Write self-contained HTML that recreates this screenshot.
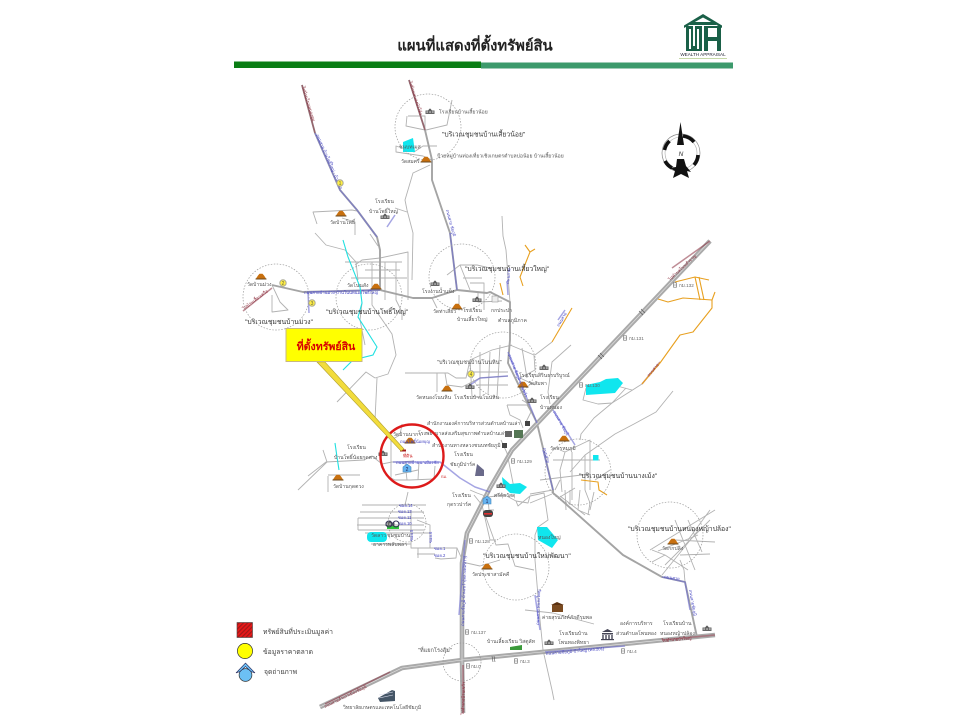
<!DOCTYPE html>
<html lang="th">
<head>
<meta charset="utf-8">
<title>แผนที่แสดงที่ตั้งทรัพย์สิน</title>
<style>
html,body{margin:0;padding:0;background:#fff;width:960px;height:720px;overflow:hidden}
svg{display:block;filter:blur(.3px)}
text{font-family:"Liberation Sans","Noto Sans CJK SC","WenQuanYi Zen Hei",sans-serif}
.r{fill:none;stroke:#b2b2b2;stroke-width:.9;stroke-linejoin:round}
.m{fill:none;stroke:#a4a4a4;stroke-width:1.9;stroke-linejoin:round}
.h{fill:none;stroke:#aaa;stroke-width:4.6;stroke-linejoin:round}
.hc{fill:none;stroke:#e8e8e8;stroke-width:.6;stroke-linejoin:round}
.b{fill:none;stroke:#6a6ad0;stroke-width:1.5;stroke-linejoin:round;opacity:.6}
.o{fill:none;stroke:#e8a020;stroke-width:1.1;stroke-linejoin:round}
.c{fill:none;stroke:#999;stroke-width:.7;stroke-dasharray:1.5 1.5}
.t{font-size:5.1px;fill:#555}
.g{font-size:6.8px;fill:#333}
.k{font-size:4.6px;fill:#666}
.bl{font-size:4.2px;fill:#4040c0}
.rd{font-size:4.2px;fill:#8a2a3a}
.lg{font-size:6.8px;fill:#444}
</style>
</head>
<body>
<svg width="960" height="720" viewBox="0 0 960 720" xmlns="http://www.w3.org/2000/svg">
<defs>
<g id="wat"><path d="M-3 -1.5L3 -1.5L5 1.5L-5 1.5Z M-1.5 -3.2L1.5 -3.2L3 -1.5L-3 -1.5Z" fill="#c8700f"/><rect x="-5.5" y="1.5" width="11" height="1" fill="#6a4a20"/></g>
<g id="sch"><rect x="-4.5" y="-1.5" width="9" height="3.5" fill="#666"/><path d="M-2 -1.5L0 -3.6L2 -1.5Z" fill="#555"/><rect x="-3.5" y="-.6" width="1.3" height="1.3" fill="#ddd"/><rect x="-.6" y="-.6" width="1.3" height="1.3" fill="#ddd"/><rect x="2.2" y="-.6" width="1.3" height="1.3" fill="#ddd"/></g>
<g id="km"><rect x="-1.5" y="-2.2" width="3" height="4.4" fill="none" stroke="#666" stroke-width=".6"/><line x1="-1.5" y1="0" x2="1.5" y2="0" stroke="#666" stroke-width=".5"/></g>
<pattern id="hat" width="3" height="3" patternUnits="userSpaceOnUse" patternTransform="rotate(-45)"><rect width="3" height="3" fill="#e81818"/><rect width="3" height="1.2" fill="#a01818"/></pattern>
</defs>

<!-- header -->
<text x="475" y="50.5" text-anchor="middle" font-size="14.8" font-weight="bold" fill="#222">แผนที่แสดงที่ตั้งทรัพย์สิน</text>
<rect x="234" y="61.5" width="247" height="6.5" fill="#0a7d14"/>
<rect x="481" y="62.5" width="252" height="6" fill="#3c9a6c"/>

<!-- logo -->
<g fill="#1a6048">
<path d="M703 14L722 25.5L722 28L703 17.5L684 28L684 25.5Z"/>
<path d="M690 22L716 22L716 25L690 25Z"/>
<rect x="686" y="26" width="16" height="25"/>
<rect x="704" y="26" width="17" height="25"/>
</g>
<g fill="#fff">
<rect x="689" y="29" width="2" height="20"/><rect x="693" y="26" width="2" height="20"/><rect x="697" y="29" width="2" height="20"/>
<rect x="708" y="28" width="9" height="9"/><rect x="708" y="41" width="9" height="10"/>
</g>
<rect x="680" y="51" width="46" height="5.5" fill="#fff"/>
<text x="703" y="56" text-anchor="middle" font-size="4.6" fill="#223">WEALTH APPRAISAL</text>
<line x1="679" y1="58.5" x2="727" y2="58.5" stroke="#c6d8a8" stroke-width="1"/>

<!-- thin local roads -->
<g class="r">
<path d="M452 100L447 125L426 130"/>
<path d="M408 116L425 116L425 130L406 126L407 116"/>
<path d="M437 146L423 146L414 152L396 146L396 152L423 156L432 160"/>
<path d="M430 165L413 173L405 200L407 210L413 233L412 280"/>
<path d="M317 224L313 212L352 210L357 211"/>
<path d="M395 208L407 212"/>
<path d="M355 235L355 222L342 218"/>
<path d="M315 233L326 245L345 250L356 262L358 280"/>
<path d="M502 216L503 236L506 250L510 302"/>
<path d="M370 234L378 246"/>
<path d="M355 265L362 260L380 258L408 252L408 300"/>
<path d="M345 262L380 262L402 262"/>
<path d="M365 270L400 270"/>
<path d="M351 278L407 278"/>
<path d="M372 262L372 305L392 334L396 355L388 374L375 378"/>
<path d="M385 262L385 300"/>
<path d="M396 262L396 300L402 312L402 320"/>
<path d="M362 303L360 320L365 345"/>
<path d="M375 378L366 372L337 402"/>
<path d="M377 378L375 420"/>
<path d="M272 285L280 302L288 310L272 312L272 295"/>
<path d="M447 275L460 265L477 265L490 268"/>
<path d="M460 265L470 290"/>
<path d="M432 298L437 308"/>
<path d="M470 283L484 283L484 310"/>
<path d="M463 278L482 278"/>
<path d="M478 292L478 302L502 301"/>
<path d="M459 306L459 295"/>
<path d="M405 373L448 373L456 378L466 378L470 360L492 350L512 345"/>
<path d="M437 373L437 392"/>
<path d="M445 373L447 385L462 387L480 378L508 376"/>
<path d="M470 360L472 396L480 398"/>
<path d="M480 352L480 398"/>
<path d="M490 352L488 395"/>
<path d="M500 345L497 397"/>
<path d="M510 345L534 355L535 370L520 378L535 385"/>
<path d="M470 372L508 372"/>
<path d="M476 385L508 385"/>
<path d="M535 355L552 342"/>
<path d="M522 348L527 378"/>
<path d="M571 345L552 362L548 392L550 404"/>
<path d="M507 405L527 405L531 412L526 422"/>
<path d="M507 405L510 415L520 420L523 428"/>
<path d="M522 400L530 405"/>
<path d="M632 390L602 382L586 388L583 400L598 404L612 403L626 388"/>
<path d="M642 384L612 403L594 418L581 434L580 440"/>
<path d="M673 391L656 412L634 424L615 434L585 455L570 472"/>
<path d="M560 450L565 452L590 440L590 490"/>
<path d="M553 460L600 460"/>
<path d="M560 480L555 490"/>
<path d="M565 452L560 470L562 492"/>
<path d="M572 452L572 500"/>
<path d="M585 455L585 490L590 503L588 515"/>
<path d="M540 480L590 474"/>
<path d="M575 488L560 497"/>
<path d="M594 492L590 510"/>
<path d="M530 494L553 490"/>
<path d="M323 450L327 462L298 490"/>
<path d="M308 476L326 462L364 460L372 456L382 464L392 462L400 462L414 461"/>
<path d="M328 476L328 492"/>
<path d="M328 475L360 475"/>
<path d="M391 440L391 478L395 480L410 480L434 479L435 466"/>
<path d="M391 440L400 435L402 424"/>
<path d="M405 462L407 480M419 462L418 480"/>
<path d="M395 475L418 470"/>
<path d="M408 492L405 505"/>
<path d="M362 505L426 505"/>
<path d="M360 512L424 512"/>
<path d="M358 518L424 518"/>
<path d="M358 518L358 530"/>
<path d="M358 530L424 530"/>
<path d="M357 525L424 525"/>
<path d="M365 533L430 533"/>
<path d="M371 544L411 544"/>
<path d="M411 510L411 548L427 548L457 548L456 558L441 559L435 558"/>
<path d="M417 520L430 525L430 548"/>
<path d="M418 548L418 558"/>
<path d="M417 554L435 554"/>
<path d="M457 548L461 557"/>
<path d="M462 562L480 566L500 560"/>
<path d="M501 440L507 453L513 483L514 487"/>
<path d="M470 490L477 493L488 497L505 495L516 501L518 506L530 496L544 493L548 520L538 527L535 535L535 560L540 620L543 650L552 690L554 700"/>
<path d="M530 496L528 503L516 501"/>
<path d="M530 503L552 494"/>
<path d="M488 497L489 510L494 510"/>
<path d="M474 495L482 505L490 540L496 540"/>
<path d="M484 512L496 545L508 544L515 566L534 570"/>
<path d="M525 610L553 613L594 624"/>
<path d="M610 470L595 480"/>
<path d="M560 496L585 515"/>
<path d="M565 490L566 510M570 490L570 505"/>
<path d="M580 490L578 510L590 515"/>
<path d="M652 550L665 555L688 570M665 555L652 562"/>
<path d="M658 551L698 535M650 550L715 510"/>
<path d="M675 520L695 570"/>
<path d="M665 565L710 520"/>
<path d="M662 575L700 528"/>
<path d="M675 540L715 542M680 555L710 554"/>
<path d="M688 540L710 510"/>
<path d="M688 520L702 552"/>
<path d="M685 582L684 570L680 560"/>
</g>

<!-- main grey roads -->
<g class="m">
<path d="M302 85L315 133L340 190L357 210L377 237L380 250L380 290"/>
<path d="M409 80L425 130L432 160L432 180L450 233L457 290"/>
<path d="M272 285L303 292L380 290L413 298L432 298L457 290L487 293L490 292L510 302L510 340L508 363L537 423L553 490L553 493L558 497L623 555L662 577L685 582L697 637"/>
</g>
<!-- highway -->
<g class="h">
<path d="M710 241L512 450L490 488L467 533L462 563L462 660L463 713"/>
<path d="M320 707L402 668L462 660L542 652L715 635"/>
</g>
<g class="hc">
<path d="M710 241L512 450L490 488L467 533L462 563L462 660L463 713"/>
<path d="M320 707L402 668L462 660L542 652L715 635"/>
</g>
<g fill="none" stroke="#555" stroke-width=".6">
<path d="M641 309L645 313M639 311L643 315"/>
<path d="M598 355L602 359M600 353L604 357"/>
<path d="M492 656L493 662M494 656L495 662"/>
</g>

<!-- blue/dark road overlays -->
<g class="b">
<path d="M315 133L340 190L357 210L377 237"/>
<path d="M307 292L380 290"/>
<path d="M450 233L457 290"/>
<path d="M508 352L537 423"/>
<path d="M553 410L575 445"/>
<path d="M543 450L553 490"/>
<path d="M459 615L465 540"/>
<path d="M545 652L625 646"/>
<path d="M662 577L685 582L690 610"/>
<path d="M535 595L540 630"/>
<path d="M393 462L440 462L460 478L475 487L490 492"/>
<path d="M308 292L309 313"/>
<path d="M507 281L508 295"/>
<path d="M558 320L565 310"/>
<path d="M387 227L395 215"/>
<path d="M466 388L480 378L508 376"/>
</g>
<g fill="none" stroke="#8a3040" stroke-width="1.5" opacity=".55">
<path d="M302 85L315 133"/>
<path d="M409 80L425 130"/>
<path d="M672 268L710 241"/>
<path d="M662 640L715 635"/>
<path d="M325 704L390 672"/>
<path d="M463 665L463 713"/>
<path d="M642 384L660 362"/>
<path d="M243 311L272 288"/>
</g>

<!-- orange roads -->
<g class="o">
<path d="M675 282L695 277L709 280"/>
<path d="M695 277L700 300M699 277L704 300"/>
<path d="M658 299L668 302L683 298L712 300L715 292"/>
<path d="M712 300L712 308L693 332L680 335L660 363L642 384"/>
<path d="M525 245L530 252L535 249M530 252L520 277L523 286"/>
<path d="M500 283L503 295"/>
<path d="M572 308L552 342"/>
<path d="M581 480L598 482L599 490L607 495"/>
</g>

<!-- water -->
<g fill="#10e6ee">
<path d="M403 142L413 138L415 152L403 152Z"/>
<path d="M586 385L600 382L606 379L618 378L623 383L615 393L586 395Z"/>
<path d="M502 477L510 484L520 483L527 487L520 494L510 493L503 486Z"/>
<path d="M537 527L547 527L558 540L552 548L538 540Z"/>
<rect x="593" y="455" width="5.5" height="5.5"/>
<rect x="367" y="532" width="20" height="10" rx="4"/>
</g>
<path d="M343 240L348 257L360 287L362 303L358 317L377 347L373 355L353 360L343 370" fill="none" stroke="#20e0e0" stroke-width="1.1"/>
<path d="M335 443L337 457L339 470" fill="none" stroke="#20e0e0" stroke-width="1.1"/>

<!-- community circles -->
<circle class="c" cx="428" cy="127" r="33"/>
<circle class="c" cx="276" cy="297" r="33"/>
<circle class="c" cx="369" cy="297" r="33"/>
<circle class="c" cx="462" cy="277" r="33"/>
<circle class="c" cx="503" cy="365" r="33"/>
<circle class="c" cx="578" cy="472" r="33"/>
<circle class="c" cx="670" cy="535" r="33"/>
<circle class="c" cx="516" cy="567" r="33"/>
<circle class="c" cx="462" cy="662" r="19"/>
<circle class="c" cx="407" cy="523" r="19"/>

<!-- community labels -->
<text class="g" x="442" y="136.5">"บริเวณชุมชนบ้านเสี้ยวน้อย"</text>
<text class="g" x="326" y="314">"บริเวณชุมชนบ้านโพธิ์ใหญ่"</text>
<text class="g" x="245" y="324">"บริเวณชุมชนบ้านม่วง"</text>
<text class="g" x="465" y="271">"บริเวณชุมชนบ้านเสี้ยวใหญ่"</text>
<text class="t" x="437" y="364" style="font-size:5.6px">"บริเวณชุมชนบ้านโนนหิน"</text>
<text class="g" x="579" y="478">"บริเวณชุมชนบ้านนางเม้ง"</text>
<text class="g" x="628" y="531">"บริเวณชุมชนบ้านหนองหญ้าปล้อง"</text>
<text class="g" x="483" y="558">"บริเวณชุมชนบ้านใหม่พัฒนา"</text>
<text class="t" x="418" y="652" style="font-size:5.6px">"ที่แยกโรงสุ้ม"</text>

<!-- wat icons -->
<use href="#wat" x="426" y="160"/><use href="#wat" x="341" y="214"/><use href="#wat" x="261" y="277"/>
<use href="#wat" x="376" y="287"/><use href="#wat" x="457" y="307"/><use href="#wat" x="447" y="389"/>
<use href="#wat" x="410" y="441"/><use href="#wat" x="338" y="478"/><use href="#wat" x="523" y="385"/>
<use href="#wat" x="564" y="439"/><use href="#wat" x="673" y="542"/><use href="#wat" x="487" y="567"/>
<!-- schools -->
<use href="#sch" x="430" y="112"/><use href="#sch" x="385" y="217"/><use href="#sch" x="435" y="284"/>
<use href="#sch" x="477" y="300"/><use href="#sch" x="470" y="387"/><use href="#sch" x="544" y="368"/>
<use href="#sch" x="532" y="401"/><use href="#sch" x="549" y="643"/><use href="#sch" x="707" y="629"/>
<use href="#sch" x="383" y="454"/><use href="#sch" x="501" y="486"/><use href="#sch" x="390" y="524"/>

<!-- km markers -->
<g>
<use href="#km" x="675" y="285"/><text class="k" x="679" y="287">กม.132</text>
<use href="#km" x="625" y="338"/><text class="k" x="629" y="340">กม.131</text>
<use href="#km" x="581" y="385"/><text class="k" x="585" y="387">กม.130</text>
<use href="#km" x="513" y="461"/><text class="k" x="517" y="463">กม.129</text>
<use href="#km" x="471" y="541"/><text class="k" x="475" y="543">กม.128</text>
<use href="#km" x="467" y="632"/><text class="k" x="471" y="634">กม.137</text>
<use href="#km" x="468" y="666"/><text class="k" x="471" y="668">กม.0</text>
<use href="#km" x="516" y="661"/><text class="k" x="520" y="663">กม.3</text>
<use href="#km" x="623" y="651"/><text class="k" x="627" y="653">กม.4</text>
</g>

<!-- place labels -->
<text class="t" x="439" y="113.5">โรงเรียนบ้านเสี้ยวน้อย</text>
<text class="t" x="399" y="148.5">ชนบทเมส</text>
<text class="t" x="401" y="163">วัดสมศรี</text>
<text class="t" x="437" y="157.5">ป้ายหมู่บ้านท่องเที่ยวเชิงเกษตรตำบลบ่อน้อย บ้านเสี้ยวน้อย</text>
<text class="t" x="375" y="203">โรงเรียน</text>
<text class="t" x="369" y="213">บ้านโพธิ์ใหญ่</text>
<text class="t" x="330" y="224">วัดบ้านโพธิ์</text>
<text class="t" x="247" y="286">วัดบ้านม่วง</text>
<text class="t" x="347" y="287">วัดโนนสัง</text>
<text class="t" x="422" y="293">โรงงานน้ำแข็ง</text>
<text class="t" x="433" y="313">วัดท่าเสี่ยว</text>
<text class="t" x="463" y="312">โรงเรียน</text>
<text class="t" x="457" y="321">บ้านเสี้ยวใหญ่</text>
<text class="t" x="491" y="312">กกประปา</text>
<text class="t" x="498" y="322">ตำบลภูมิภาค</text>
<text class="t" x="416" y="399">วัดหนองโนนหิน</text>
<text class="t" x="454" y="399">โรงเรียนบ้านโนนหิน</text>
<text class="t" x="519" y="377">โรงเรียนสิรินธรบริบูรณ์</text>
<text class="t" x="528" y="385">วัดสัมพา</text>
<text class="t" x="540" y="399">โรงเรียน</text>
<text class="t" x="540" y="409">บ้านหนอง</text>
<text class="t" x="550" y="450">วัดพรหมภูมิ</text>
<text class="t" x="427" y="425">สำนักงานองค์การบริหารส่วนตำบลบ้านเล่า</text>
<text class="t" x="418" y="435">โรงพยาบาลส่งเสริมสุขภาพตำบลบ้านเล่า</text>
<text class="t" x="432" y="447">สำนักงานทางหลวงชนบทชัยภูมิ</text>
<text class="t" x="454" y="456">โรงเรียน</text>
<text class="t" x="450" y="466">ชัยภูมิปาร์ค</text>
<text class="t" x="393" y="436">วัดบ้านนากา</text>
<text class="t" x="347" y="449">โรงเรียน</text>
<text class="t" x="334" y="459">บ้านโพธิ์น้อยกุดตวง</text>
<text class="t" x="333" y="488">วัดบ้านกุดตวง</text>
<text class="t" x="452" y="497">โรงเรียน</text>
<text class="t" x="447" y="506">กุดรวปาร์ค</text>
<text class="t" x="494" y="497">ศรีธุ้ยวัสดุ</text>
<text class="t" x="371" y="537">วัดลาว</text>
<text class="t" x="387" y="537">ชุมชุมบ้าน</text>
<text class="t" x="373" y="546">อาคารพลับพลา</text>
<text class="t" x="538" y="539">หนองใหญ่</text>
<text class="t" x="662" y="550">วัดกกปลิง</text>
<text class="t" x="472" y="576">วัดประชาสามัคคี</text>
<text class="t" x="542" y="619">ค่ายสุรนภังค์ภักดีรุมพล</text>
<text class="t" x="620" y="625">องค์การบริหาร</text>
<text class="t" x="616" y="635">ส่วนตำบลโพนทอง</text>
<text class="t" x="663" y="625">โรงเรียนบ้าน</text>
<text class="t" x="660" y="635">หนองหญ้าปล้อง</text>
<text class="t" x="559" y="635">โรงเรียนบ้าน</text>
<text class="t" x="558" y="644">โพนทองพิทยา</text>
<text class="t" x="487" y="643">บ้านเลี้ยงเรียน วิสตูลัท</text>
<text class="t" x="343" y="709">วิทยาลัยเกษตรและเทคโนโลยีชัยภูมิ</text>

<!-- road labels -->
<text class="rd" transform="translate(302 87) rotate(73)">ไปบ้านโนนหนองตูม</text>
<text class="bl" transform="translate(316 135) rotate(66)">ถนนสาย บ้านโพธิ์ใหญ่ - บ้านม่วง</text>
<text class="rd" transform="translate(409 82) rotate(72)">ไปบ้านหนองบัวโค้ง</text>
<text class="bl" transform="translate(446 210) rotate(75)">ถนนสาย ชัยภูมิ</text>
<text class="bl" transform="translate(304 294)">ถนนสายบ้านม่วง-บ้านโนนหนองโพธิ์ใหญ่</text>
<text class="rd" transform="translate(244 310) rotate(-37)">ไปบ้านเสี้ยวเครือ</text>
<text class="rd" transform="translate(670 281) rotate(-43)">ไปตำบลโนนสำราญ</text>
<text class="bl" transform="translate(509 284) rotate(-85)">ถนนสาย</text>
<text class="bl" transform="translate(559 327) rotate(-60)">ถนนสาย</text>
<text class="rd" transform="translate(649 377) rotate(-50)">ถนนสาย</text>
<text class="bl" transform="translate(508 355) rotate(68)">ถนนสาย ชัยภูมิ-บ้านเขว้า</text>
<text class="bl" transform="translate(553 412) rotate(60)">ถนนสาย ชัยภูมิ</text>
<text class="bl" transform="translate(543 448) rotate(75)">ถนนสาย</text>
<text class="bl" transform="translate(464 626) rotate(-88)">ถนนสายชัยภูมิ-บ้านเขว้า(หลวงพ่อขาว)</text>
<text class="rd" transform="translate(464 715) rotate(-88)">ไปอำเภอบ้านเขว้า</text>
<text class="rd" transform="translate(325 708) rotate(-26)">ถนนสายสำเภาเมืองชัยภูมิ</text>
<text class="bl" transform="translate(546 655) rotate(-5)">ถนนสายชัยภูมิ-บัวใหญ่ (ทล.201)</text>
<text class="rd" transform="translate(662 642) rotate(-5)">ไปอำเภอบัวใหญ่</text>
<text class="bl" transform="translate(539 625) rotate(-88)">ถนนสาย หนองใหญ่</text>
<text class="bl" transform="translate(664 578) rotate(8)">ถนนสาย</text>
<text class="bl" transform="translate(689 590) rotate(80)">ถนนสายชัยภูมิ</text>
<text class="bl" x="400" y="443">ถนนโพธิ์น้อยบุญ</text>
<text class="bl" x="396" y="464">ถนนสายบ้านนาเมืองชัย</text>
<text class="bl" x="399" y="507">ซอย.14</text>
<text class="bl" x="398" y="513">ซอย.13</text>
<text class="bl" x="398" y="519">ซอย.11</text>
<text class="bl" x="398" y="525">ซอย.10</text>
<text class="bl" x="434" y="550">ซอย.1</text>
<text class="bl" x="434" y="557">ซอย.2</text>
<text class="bl" transform="translate(413 541) rotate(-90)">ซอย.5</text>
<text class="bl" transform="translate(432 543) rotate(-90)">ซอย.6</text>

<!-- other icons -->
<path d="M477 464L484 470L484 476L475 476Z" fill="#6a6a8a"/>
<rect x="505" y="431" width="7" height="6" fill="#666"/>
<rect x="514" y="430" width="9" height="8" fill="#557755"/>
<rect x="502" y="443" width="5" height="5" fill="#444"/>
<rect x="525" y="421" width="5" height="5" fill="#444"/>
<path d="M378 698L392 690L395 691L395 701L380 702Z" fill="#445566"/>
<path d="M379 695L393 692M379 698L393 695" stroke="#dde" stroke-width=".6"/>
<rect x="602" y="633" width="11" height="1.5" fill="#445"/><path d="M602 632L607.5 629L613 632Z" fill="#445"/><path d="M603 635V639M606 635V639M609 635V639M612 635V639" stroke="#445" stroke-width="1.4"/><rect x="601" y="639" width="13" height="1.2" fill="#445"/>
<rect x="552" y="605" width="11" height="7" fill="#7a4a20"/><path d="M551 605L557 602L564 605Z" fill="#5a3010"/>
<path d="M510 647L522 645L522 650L510 650Z" fill="#3a9a3a"/>
<rect x="387" y="526" width="12" height="3" fill="#2fc83a"/>
<circle cx="389" cy="524" r="3" fill="none" stroke="#335" stroke-width="1"/>
<circle cx="396" cy="524" r="3" fill="none" stroke="#335" stroke-width="1"/>
<rect x="483" y="510" width="10" height="7" rx="3" fill="#444"/><rect x="484" y="513" width="8" height="1.6" fill="#e03030"/>
<rect x="492" y="296" width="6" height="6" fill="#eee" stroke="#888" stroke-width=".5"/>

<!-- numbered markers -->
<g font-size="5" text-anchor="middle" fill="#664">
<circle cx="340" cy="183" r="3.2" fill="#ffee44" stroke="#aa9"/><text x="340" y="185">1</text>
<circle cx="283" cy="283" r="3.2" fill="#ffee44" stroke="#aa9"/><text x="283" y="285">2</text>
<circle cx="312" cy="303" r="3.2" fill="#ffee44" stroke="#aa9"/><text x="312" y="305">3</text>
<circle cx="471" cy="374" r="3.2" fill="#ffee44" stroke="#aa9"/><text x="471" y="376">4</text>
</g>
<g font-size="5" text-anchor="middle" fill="#225">
<path d="M407 464L411 467L411 472L403 472L403 467Z" fill="#66b4f0" stroke="#4488bb" stroke-width=".6"/><text x="407" y="471">2</text>
<path d="M487 496L491 499L491 504L483 504L483 499Z" fill="#66b4f0" stroke="#4488bb" stroke-width=".6"/><text x="487" y="503">1</text>
</g>

<!-- subject site -->
<rect x="400" y="449.5" width="6" height="2" fill="#a01818"/>
<text x="403" y="457.5" font-size="4.8" fill="#cc2020">ที่ดิน</text>
<text x="441" y="478" font-size="4" fill="#cc2020">กม.</text>
<circle cx="412" cy="456" r="31.5" fill="none" stroke="#dd1a1a" stroke-width="2.4"/>

<!-- callout -->
<path d="M317 362L325 362L404 449L401 451Z" fill="#f2dc3c" stroke="#b0a030" stroke-width=".6"/>
<rect x="286" y="328.5" width="76" height="33" fill="#ffff00" stroke="#c8b880" stroke-width="1"/>
<text x="326" y="350" text-anchor="middle" font-size="10.6" font-weight="bold" fill="#d80000">ที่ตั้งทรัพย์สิน</text>

<!-- compass -->
<g>
<circle cx="681" cy="153" r="19" fill="none" stroke="#888" stroke-width=".7"/>
<circle cx="681" cy="153" r="16" fill="none" stroke="#aaa" stroke-width=".6"/>
<path d="M669.5 141A17 17 0 0 0 664.5 150" fill="none" stroke="#111" stroke-width="3.6"/>
<path d="M683 136A17 17 0 0 1 694 142" fill="none" stroke="#111" stroke-width="3.6"/>
<path d="M698 155A17 17 0 0 1 694 165" fill="none" stroke="#111" stroke-width="3.6"/>
<path d="M665 161A17 17 0 0 0 672 168" fill="none" stroke="#111" stroke-width="3.6"/>
<path d="M680.5 122L684 145L677 145Z" fill="#111"/>
<text x="681" y="156" text-anchor="middle" font-size="6.5" font-style="italic" fill="#333">N</text>
<path d="M677 159L684 159L686 166L691 172L687 171L689 178L681 174L673 178L675 171L670 168L676 167Z" fill="#111"/>
</g>

<!-- legend -->
<rect x="237" y="622.5" width="15.5" height="15" fill="url(#hat)" stroke="#444" stroke-width=".6"/>
<text class="lg" x="263" y="634">ทรัพย์สินที่ประเมินมูลค่า</text>
<circle cx="245" cy="651" r="7.6" fill="#ffff00" stroke="#333" stroke-width=".7"/>
<text class="lg" x="263" y="654">ข้อมูลราคาตลาด</text>
<circle cx="245.5" cy="675" r="6.4" fill="#6cc0f5" stroke="#333" stroke-width=".7"/>
<path d="M236 673L245.5 663L255 673L251 671.5L245.5 666.5L240 671.5Z" fill="#6cc0f5" stroke="#225" stroke-width=".6"/>
<text class="lg" x="264" y="674">จุดถ่ายภาพ</text>
</svg>
</body>
</html>
